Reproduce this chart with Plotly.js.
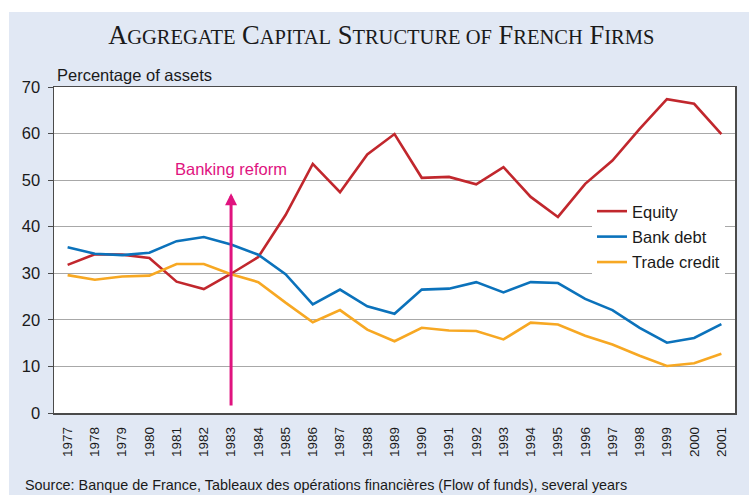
<!DOCTYPE html>
<html>
<head>
<meta charset="utf-8">
<script src="https://cdn.plot.ly/plotly-3.0.1.min.js"></script>
<style>
html,body{margin:0;padding:0;background:#ffffff;width:749px;height:495px;overflow:hidden;}
#chart{position:absolute;left:9px;top:12px;width:740px;height:483px;}
</style>
</head>
<body>
<div id="chart"></div>
<script>
var years = [1977,1978,1979,1980,1981,1982,1983,1984,1985,1986,1987,1988,1989,1990,1991,1992,1993,1994,1995,1996,1997,1998,1999,2000,2001];
var equity = [31.8,34.1,34.0,33.3,28.2,26.6,29.9,33.5,42.5,53.5,47.4,55.5,59.9,50.5,50.7,49.1,52.8,46.4,42.1,49.2,54.2,61.0,67.4,66.4,59.9];
var bankDebt = [35.6,34.2,33.9,34.4,36.9,37.8,36.2,34.0,29.8,23.3,26.5,22.9,21.3,26.5,26.7,28.1,25.9,28.1,27.9,24.5,22.1,18.3,15.1,16.1,19.1];
var tradeCredit = [29.6,28.6,29.3,29.5,32.0,32.0,29.8,28.1,23.7,19.5,22.1,17.9,15.4,18.3,17.7,17.6,15.8,19.4,19.0,16.6,14.7,12.3,10.1,10.7,12.7];
var seriesNames = ["Equity","Bank debt","Trade credit"];
var yTicks = [0,10,20,30,40,50,60,70];
var reformYear = 1983;
var reformArrowFrom = 1.3;
var reformArrowTo = 47.2;
var reformLabelY = 52.4;

var colors = ["#c1272d","#0b72bb","#f7a823"];
var vals = [equity,bankDebt,tradeCredit];
var traces = vals.map(function(v,i){
  return {x:years,y:v,type:'scatter',mode:'lines',name:seriesNames[i],legendgroup:'g'+i,
    line:{color:colors[i],width:2.6}};
});

function sc(s){return '<span style="font-size:20.5px">'+s+'</span>';}
var titleText = 'A'+sc('GGREGATE')+' C'+sc('APITAL')+' S'+sc('TRUCTURE OF')+' F'+sc('RENCH')+' F'+sc('IRMS');

var layout = {
  width:740,height:483,
  paper_bgcolor:'#e1e8f4',plot_bgcolor:'#ffffff',
  margin:{l:45,r:14,t:75,b:82},
  font:{family:'Liberation Sans, Arial, sans-serif',color:'#1a1a1a',size:15},
  title:{text:titleText,font:{family:'Liberation Serif, Times New Roman, serif',size:26.5,color:'#1a1a1a'},
    x:0.503,xref:'container',xanchor:'center',y:0.952,yref:'container',yanchor:'middle'},
  xaxis:{range:[1976.5,2001.5],tickmode:'array',tickvals:years,ticktext:years.map(String),
    tickangle:-90,tickfont:{size:13.5},showgrid:false,zeroline:false,ticks:'',
    showline:true,linecolor:'#4a4a4a',linewidth:1.5,mirror:true,ticklabelstandoff:7},
  yaxis:{range:[0,70],tickvals:yTicks,tickfont:{size:16.5},showgrid:true,gridcolor:'#a8a8a8',gridwidth:1,
    zeroline:false,ticks:'outside',ticklen:5,tickcolor:'#4a4a4a',tickwidth:1,
    showline:true,linecolor:'#4a4a4a',linewidth:1.5,mirror:true,ticklabelstandoff:4},
  legend:{x:0.79,y:0.672,xanchor:'left',yanchor:'top',bgcolor:'#ffffff',borderwidth:0,
    font:{size:16.5},tracegroupgap:1},
  showlegend:true,
  annotations:[
    {text:'Percentage of assets',xref:'paper',yref:'paper',x:0.001,y:1.0368,xanchor:'left',yanchor:'middle',
      showarrow:false,font:{size:16.5}},
    {text:'Banking reform',xref:'x',yref:'y',x:reformYear,y:reformLabelY,xanchor:'center',yanchor:'middle',
      showarrow:false,font:{size:16.5,color:'#e0137f'}},
    {text:'',xref:'x',yref:'y',x:reformYear,y:reformArrowTo,axref:'x',ayref:'y',ax:reformYear,ay:reformArrowFrom,
      showarrow:true,arrowhead:2,arrowsize:0.8,arrowwidth:3,arrowcolor:'#e0137f',standoff:0,startstandoff:0},
    {text:'Source: Banque de France, Tableaux des opérations financières (Flow of funds), several years',
      xref:'paper',yref:'paper',x:-0.0455,y:-0.19,xanchor:'left',yanchor:'top',showarrow:false,font:{size:14.4}}
  ]
};
Plotly.newPlot('chart',traces,layout,{displayModeBar:false,staticPlot:true});
</script>
</body>
</html>
